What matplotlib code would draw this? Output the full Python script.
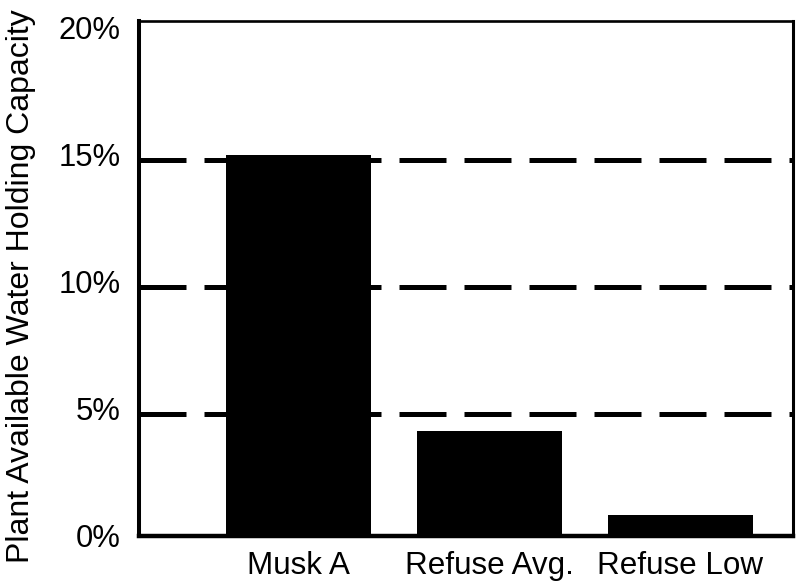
import matplotlib
matplotlib.use("Agg")
import matplotlib.pyplot as plt
import matplotlib.transforms as mtransforms

categories = ["Musk A", "Refuse Avg.", "Refuse Low"]
values = [15.0, 4.1, 0.8]
ytick_values = [0, 5, 10, 15, 20]
ytick_labels = ["0%", "5%", "10%", "15%", "20%"]
grid_levels = [5, 10, 15]
ylabel = "Plant Available Water Holding Capacity"

plt.rcParams['font.family'] = ['Liberation Sans', 'DejaVu Sans']

fig = plt.figure(figsize=(8.0, 5.86), dpi=100)
ax = fig.add_axes([138.5 / 800, 1 - 535.5 / 586, (793 - 138.5) / 800, (535.5 - 21) / 586])

x = list(range(len(categories)))

# dashed reference lines (drawn slightly below tick values as in reference)
offset = mtransforms.ScaledTranslation(0, -5.5 / 100, fig.dpi_scale_trans)
for g in grid_levels:
    line = ax.axhline(g, color="black", linewidth=3.6, dashes=(9.4, 3.6), zorder=1)
    line.set_transform(line.get_transform() + offset)

ax.bar(x, values, width=0.76, color="black", zorder=2)

ax.set_xlim(-0.841, 2.590)
ax.set_ylim(0, 20.26)
ax.set_xticks(x)
ax.set_xticklabels(categories, fontsize=22.6)
ax.set_yticks(ytick_values)
ax.set_yticklabels(ytick_labels, fontsize=22.3)
ax.tick_params(axis="both", length=0)
ax.tick_params(axis="x", pad=11)
ax.tick_params(axis="y", pad=13)

ax.set_ylabel(ylabel, fontsize=23)
ax.yaxis.set_label_coords(-0.157, 0.484)

for side, lw in [("left", 2.9), ("bottom", 3.2), ("top", 1.9), ("right", 2.2)]:
    ax.spines[side].set_linewidth(lw)
    ax.spines[side].set_color("black")

fig.savefig("out.png", dpi=100)
